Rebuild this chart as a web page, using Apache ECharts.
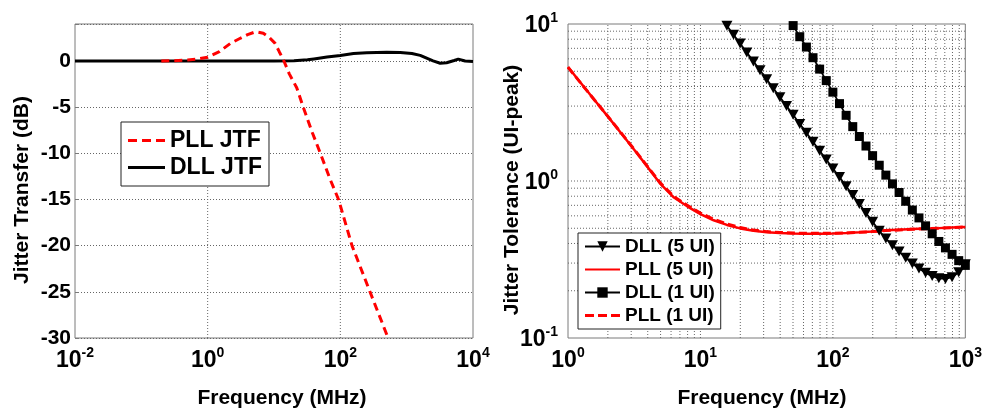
<!DOCTYPE html>
<html><head><meta charset="utf-8">
<script src="https://cdn.jsdelivr.net/npm/echarts@6/dist/echarts.min.js"></script>
<style>html,body{margin:0;padding:0;background:#fff}#c{width:985px;height:414px}</style>
</head><body><div id="c"></div>
<script>
// ---------- Left chart: Jitter Transfer ----------
const pllJtfFreq = [0.2, 0.3, 0.5, 0.7, 1, 1.5, 2.2, 3, 4, 5, 5.5, 6.9, 8.5, 10.4, 12, 13.9, 17, 22, 27.6, 38, 50, 70, 94, 150, 280, 525];
const pllJtf     = [0, 0.02, 0.1, 0.2, 0.4, 1.0, 1.9, 2.4, 2.85, 3.1, 3.15, 3.0, 2.55, 1.9, 1.0, 0.1, -1.4, -2.9, -5.0, -7.8, -10, -12.8, -15, -20, -25, -30];
const dllJtfFreq = [0.01, 1, 10, 20, 32, 40, 63, 100, 158, 250, 500, 800, 1200, 1600, 2000, 2500, 3200, 4000, 5200, 6000, 7600, 10000];
const dllJtf     = [0, 0, 0, 0.02, 0.12, 0.22, 0.42, 0.6, 0.8, 0.9, 0.93, 0.92, 0.8, 0.6, 0.3, 0.0, -0.25, -0.2, 0.05, 0.2, 0.0, -0.05];
const jtfXGrid = [1, 100];

// ---------- Right chart: Jitter Tolerance ----------
const dllFreq = [14.13, 15.85, 17.78, 19.95, 22.39, 25.12, 28.18, 31.62, 35.48, 39.81, 44.67,
  50.12, 56.23, 63.10, 70.79, 79.43, 89.13, 100, 112.2, 125.9, 141.3, 158.5, 177.8, 199.5, 223.9,
  251.2, 281.8, 316.2, 354.8, 398.1, 446.7, 501.2, 562.3, 631.0, 707.9, 794.3, 891.3, 1000];
const dll5 = [11.1, 9.75, 8.55, 7.50, 6.58, 5.78, 5.07, 4.45, 3.90, 3.42, 3.00, 2.64, 2.31, 2.03, 1.78,
  1.56, 1.37, 1.20, 1.06, 0.927, 0.813, 0.714, 0.626, 0.55, 0.482, 0.43, 0.39, 0.355, 0.325, 0.298,
  0.277, 0.26, 0.248, 0.24, 0.238, 0.244, 0.262, 0.295];
const dll1Freq = [50.12, 56.23, 63.10, 70.79, 79.43, 89.13, 100, 112.2, 125.9, 141.3, 158.5, 177.8, 199.5, 223.9,
  251.2, 281.8, 316.2, 354.8, 398.1, 446.7, 501.2, 562.3, 631.0, 707.9, 794.3, 891.3, 1000];
const dll1 = [9.77, 8.3, 7.13, 6.10, 5.16, 4.36, 3.68, 3.11, 2.62, 2.22, 1.92, 1.67, 1.45, 1.26, 1.09,
  0.959, 0.845, 0.743, 0.653, 0.582, 0.518, 0.461, 0.412, 0.375, 0.341, 0.311, 0.29];
const pllFreq = [1, 1.259, 1.585, 1.995, 2.512, 3.162, 3.981, 5.012, 6.310, 7.943, 10, 12.59, 15.85, 19.95, 25.12,
  31.62, 39.81, 50.12, 63.10, 79.43, 100, 125.9, 158.5, 199.5, 251.2, 316.2, 398.1, 501.2, 631.0, 794.3, 1000];
const pll5 = [5.32, 4.18, 3.28, 2.58, 2.02, 1.58, 1.23, 0.955, 0.785, 0.69, 0.615, 0.562, 0.525, 0.499, 0.482,
  0.472, 0.467, 0.463, 0.462, 0.462, 0.463, 0.466, 0.471, 0.477, 0.485, 0.49, 0.494, 0.498, 0.501, 0.506, 0.51];
const pll1 = [5.30, 4.17, 3.28, 2.59, 2.03, 1.59, 1.24, 0.965, 0.795, 0.70, 0.625, 0.57, 0.532, 0.505, 0.487,
  0.476, 0.47, 0.466, 0.464, 0.464, 0.465, 0.467, 0.471, 0.476, 0.483, 0.488, 0.492, 0.496, 0.5, 0.505, 0.51];
const tolXGrid = [2,3,4,5,6,7,8,9,10,20,30,40,50,60,70,80,90,100,200,300,400,500,600,700,800,900];
const tolYGrid = [0.2,0.3,0.4,0.5,0.6,0.7,0.8,0.9,1,2,3,4,5,6,7,8,9];

const FONT = '"Liberation Sans", Arial, Helvetica, sans-serif';
const pair = (xs, ys) => xs.map((x, i) => [x, ys[i]]);
function gridLines(xi, yi, xs, ys, xExt, yExt) {
  const d = [];
  xs.forEach(x => { d.push([x, yExt[0]], [x, yExt[1]], [x, null]); });
  ys.forEach(y => { d.push([xExt[0], y], [xExt[1], y], [null, y]); });
  return { type: 'line', xAxisIndex: xi, yAxisIndex: yi, data: d, z: 1, silent: true, showSymbol: false,
    connectNulls: false, lineStyle: { color: '#666', width: 1, type: [1, 2] }, tooltip: { show: false } };
}
const powLabel = (v) => {
  const e = Math.round(Math.log10(v));
  return '{b|10}{s|' + e + '}';
};
const powRich = {
  b: { fontFamily: FONT, fontWeight: 'bold', fontSize: 23, color: '#000', lineHeight: 26, verticalAlign: 'bottom' },
  s: { fontFamily: FONT, fontWeight: 'bold', fontSize: 14, color: '#000', lineHeight: 26, verticalAlign: 'top' }
};
const DOWN_TRI = 'path://M0,0L10,0L5,9Z';
// legend line icons (box W x H, band in the middle)
const ICON_SOLID_L  = 'path://M0,0M37,14M0,5.5h37v3h-37z';
const ICON_DASH_L   = 'path://M0,0M37,14M0,5.5h9v3h-9zM14,5.5h9v3h-9zM28,5.5h9v3h-9z';
const ICON_SOLID_R  = 'path://M0,0M35,13M0,5.5h35v2h-35z';
const ICON_DASH_R   = 'path://M0,0M35,13M0,5h9v3h-9zM13,5h9v3h-9zM26,5h9v3h-9z';

const option = {
  animation: false,
  backgroundColor: '#fff',
  grid: [
    { left: 75, top: 24, width: 398, height: 314, show: true, borderColor: '#7a7a7a', borderWidth: 1 },
    { left: 568, top: 24, width: 398, height: 314, show: true, borderColor: '#7a7a7a', borderWidth: 1 }
  ],
  xAxis: [
    { type: 'log', gridIndex: 0, min: 0.01, max: 10000, logBase: 10,
      axisLine: { show: false }, axisTick: { show: false }, splitLine: { show: false },
      axisLabel: { margin: 8, formatter: (v) => { const e = Math.round(Math.log10(v)); return (e % 2 === 0) ? powLabel(v) : ''; }, rich: powRich } },
    { type: 'log', gridIndex: 1, min: 1, max: 1000, logBase: 10,
      axisLine: { show: false }, axisTick: { show: false }, splitLine: { show: false },
      axisLabel: { margin: 8, formatter: powLabel, rich: powRich } }
  ],
  yAxis: [
    { type: 'value', gridIndex: 0, min: -30, max: 4, interval: 5,
      axisLine: { show: false },
      axisTick: { show: true, inside: true, length: 4, lineStyle: { color: '#7a7a7a' } },
      splitLine: { show: true, lineStyle: { color: '#666', width: 1, type: [1, 2] } },
      axisLabel: { margin: 4, color: '#000', fontFamily: FONT, fontWeight: 'bold', fontSize: 21,
        formatter: (v) => (v % 5 === 0 ? String(v) : '') } },
    { type: 'log', gridIndex: 1, min: 0.1, max: 10, logBase: 10,
      axisLine: { show: false }, axisTick: { show: false }, splitLine: { show: false },
      axisLabel: { margin: 10, formatter: powLabel, rich: powRich } }
  ],
  legend: [
    { data: [{ name: 'PLL JTF', icon: ICON_DASH_L }, { name: 'DLL JTF', icon: ICON_SOLID_L }],
      left: 121, top: 122, orient: 'vertical', selectedMode: false,
      backgroundColor: '#fff', borderColor: '#222', borderWidth: 1, padding: [7, 7, 7, 7], itemGap: 4,
      itemWidth: 37, itemHeight: 14,
      textStyle: { fontFamily: FONT, fontWeight: 'bold', fontSize: 23, color: '#000' } },
    { data: ['DLL (5 UI)', { name: 'PLL (5 UI)', icon: ICON_SOLID_R }, 'DLL (1 UI)', { name: 'PLL (1 UI)', icon: ICON_DASH_R }],
      left: 578, top: 233, orient: 'vertical', selectedMode: false,
      backgroundColor: '#fff', borderColor: '#222', borderWidth: 1, padding: [4, 6, 4, 6], itemGap: 4,
      itemWidth: 35, itemHeight: 13,
      textStyle: { fontFamily: FONT, fontWeight: 'bold', fontSize: 19, color: '#000' } }
  ],
  graphic: [
    { type: 'text', x: 22, y: 190, rotation: Math.PI / 2, style: { text: 'Jitter Transfer (dB)', font: 'bold 21px ' + FONT, fill: '#000', textAlign: 'center', textVerticalAlign: 'middle' } },
    { type: 'text', x: 282, y: 398, style: { text: 'Frequency (MHz)', font: 'bold 21px ' + FONT, fill: '#000', textAlign: 'center', textVerticalAlign: 'middle' } },
    { type: 'text', x: 512, y: 190, rotation: Math.PI / 2, style: { text: 'Jitter Tolerance (UI-peak)', font: 'bold 21px ' + FONT, fill: '#000', textAlign: 'center', textVerticalAlign: 'middle' } },
    { type: 'text', x: 762, y: 398, style: { text: 'Frequency (MHz)', font: 'bold 21px ' + FONT, fill: '#000', textAlign: 'center', textVerticalAlign: 'middle' } }
  ],
  series: [
    gridLines(0, 0, jtfXGrid, [], [0.01, 10000], [-30, 4]),
    gridLines(1, 1, tolXGrid, tolYGrid, [1, 1000], [0.1, 10]),
    { name: 'PLL JTF', type: 'line', xAxisIndex: 0, yAxisIndex: 0, data: pair(pllJtfFreq, pllJtf), showSymbol: false, z: 3,
      lineStyle: { color: '#ff0000', width: 3, type: [8, 5] }, itemStyle: { color: '#ff0000' } },
    { name: 'DLL JTF', type: 'line', xAxisIndex: 0, yAxisIndex: 0, data: pair(dllJtfFreq, dllJtf), showSymbol: false, z: 2,
      lineStyle: { color: '#000', width: 3 }, itemStyle: { color: '#000' } },
    { name: 'DLL (5 UI)', type: 'line', xAxisIndex: 1, yAxisIndex: 1, data: pair(dllFreq, dll5), symbol: DOWN_TRI, symbolSize: [11, 10], z: 3,
      lineStyle: { color: '#000', width: 1.8 }, itemStyle: { color: '#000' } },
    { name: 'PLL (5 UI)', type: 'line', xAxisIndex: 1, yAxisIndex: 1, data: pair(pllFreq, pll5), showSymbol: false, z: 3,
      lineStyle: { color: '#ff0000', width: 2.5 }, itemStyle: { color: '#ff0000' } },
    { name: 'DLL (1 UI)', type: 'line', xAxisIndex: 1, yAxisIndex: 1, data: pair(dll1Freq, dll1), symbol: 'rect', symbolSize: 9, z: 3,
      lineStyle: { color: '#000', width: 1.8 }, itemStyle: { color: '#000' } },
    { name: 'PLL (1 UI)', type: 'line', xAxisIndex: 1, yAxisIndex: 1, data: pair(pllFreq, pll1), showSymbol: false, z: 3,
      lineStyle: { color: '#ff0000', width: 3, type: [8, 4] }, itemStyle: { color: '#ff0000' } }
  ]
};
const chart = echarts.init(document.getElementById('c'), null, { renderer: 'canvas' });
chart.setOption(option);
</script>
</body></html>
